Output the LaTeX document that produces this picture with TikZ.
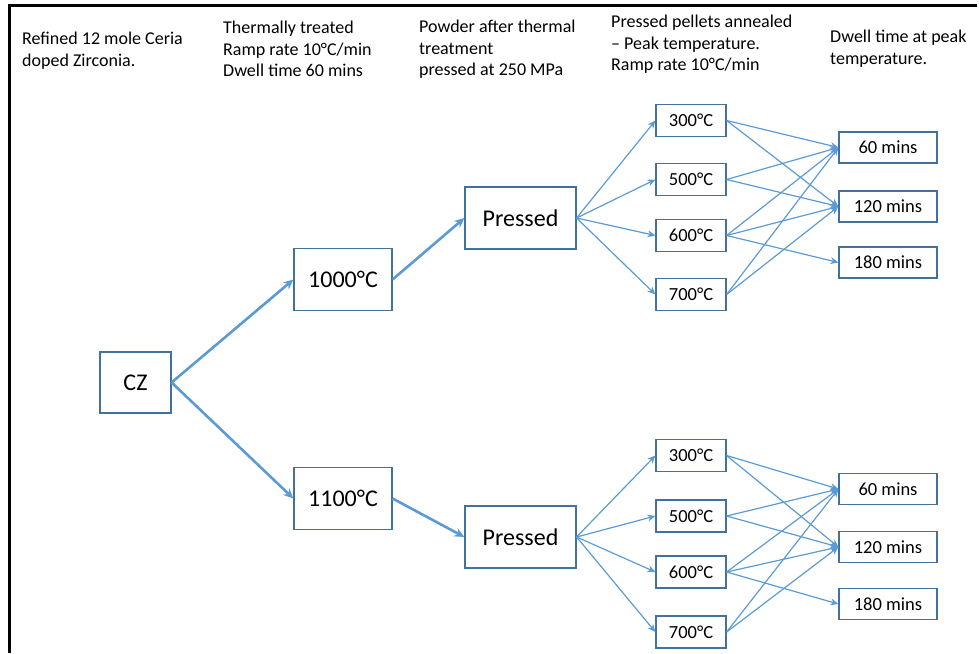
\documentclass[tikz,border=0pt]{standalone}
\usepackage{fontspec}
\setmainfont{Carlito}
\usetikzlibrary{arrows.meta}
\definecolor{boxline}{HTML}{41719C}
\definecolor{arrowblue}{HTML}{5B9BD5}

\begin{document}
\begin{tikzpicture}[x=1pt, y=-1pt,
    box/.style={draw=boxline, line width=1.2pt, inner sep=0pt, font=\fontsize{24}{28}\selectfont},
    tempbox/.style={box, minimum width=70pt, minimum height=32pt, font=\fontsize{18.5}{22}\selectfont},
    minsbox/.style={box, minimum width=98pt, minimum height=31pt, font=\fontsize{18.5}{22}\selectfont},
    heading/.style={anchor=north west, align=left, inner sep=0pt, font=\fontsize{18}{21.5}\selectfont},
    bigarrow/.style={draw=arrowblue, line width=2.6pt, -{Stealth[length=10pt, width=9pt]}},
    thinarrow/.style={draw=arrowblue, line width=1.2pt, -{Stealth[length=8pt, width=7pt]}}]
    \useasboundingbox (0,0) rectangle (979,653);
    \draw[line width=3pt] (9.5,653) -- (9.5,5.5) -- (977,5.5);

    % column headings
    \node[heading] (h1) at (22,32) {Refined 12 mole Ceria\\doped Zirconia.};
    \node[heading] (h2) at (223,21) {Thermally treated\\Ramp rate 10°C/min\\Dwell time 60 mins};
    \node[heading] (h3) at (419,20) {Powder after thermal\\treatment\\pressed at 250 MPa};
    \node[heading] (h4) at (611,15) {Pressed pellets annealed\\– Peak temperature.\\Ramp rate 10°C/min};
    \node[heading] (h5) at (830,30) {Dwell time at peak\\temperature.};

    % main branches
    \node[box, minimum width=71pt, minimum height=61pt] (cz) at (135.5,382.5) {CZ};
    \node[box, minimum width=98pt, minimum height=62pt] (t1000) at (343,279.5) {1000°C};
    \node[box, minimum width=98pt, minimum height=62pt] (t1100) at (343,498.5) {1100°C};
    \node[box, minimum width=111pt, minimum height=62pt] (pa) at (520.5,218) {Pressed};
    \node[box, minimum width=111pt, minimum height=62pt] (pb) at (520.5,537) {Pressed};

    \draw[bigarrow] (cz.east) -- (t1000.west);
    \draw[bigarrow] (cz.east) -- (t1100.west);
    \draw[bigarrow] (t1000.east) -- (pa.west);
    \draw[bigarrow] (t1100.east) -- (pb.west);

    % upper set: annealing and dwell
    \node[tempbox] (a300) at (691,120.5) {300°C};
    \node[tempbox] (a500) at (691,179.5) {500°C};
    \node[tempbox] (a600) at (691,235.5) {600°C};
    \node[tempbox] (a700) at (691,294.5) {700°C};
    \node[minsbox] (a60) at (888,147.5) {60 mins};
    \node[minsbox] (a120) at (888,206.5) {120 mins};
    \node[minsbox] (a180) at (888,262.5) {180 mins};

    \draw[thinarrow] (pa.east) -- (a300.west);
    \draw[thinarrow] (pa.east) -- (a500.west);
    \draw[thinarrow] (pa.east) -- (a600.west);
    \draw[thinarrow] (pa.east) -- (a700.west);
    \draw[thinarrow] (a300.east) -- (a60.west);
    \draw[thinarrow] (a300.east) -- (a120.west);
    \draw[thinarrow] (a500.east) -- (a60.west);
    \draw[thinarrow] (a500.east) -- (a120.west);
    \draw[thinarrow] (a600.east) -- (a60.west);
    \draw[thinarrow] (a600.east) -- (a120.west);
    \draw[thinarrow] (a600.east) -- (a180.west);
    \draw[thinarrow] (a700.east) -- (a60.west);
    \draw[thinarrow] (a700.east) -- (a120.west);

    % lower set: annealing and dwell
    \node[tempbox] (b300) at (691,455.5) {300°C};
    \node[tempbox] (b500) at (691,516) {500°C};
    \node[tempbox] (b600) at (691,572) {600°C};
    \node[tempbox] (b700) at (691,632) {700°C};
    \node[minsbox] (b60) at (888,489) {60 mins};
    \node[minsbox] (b120) at (888,547) {120 mins};
    \node[minsbox] (b180) at (888,604) {180 mins};

    \draw[thinarrow] (pb.east) -- (b300.west);
    \draw[thinarrow] (pb.east) -- (b500.west);
    \draw[thinarrow] (pb.east) -- (b600.west);
    \draw[thinarrow] (pb.east) -- (b700.west);
    \draw[thinarrow] (b300.east) -- (b60.west);
    \draw[thinarrow] (b300.east) -- (b120.west);
    \draw[thinarrow] (b500.east) -- (b60.west);
    \draw[thinarrow] (b500.east) -- (b120.west);
    \draw[thinarrow] (b600.east) -- (b60.west);
    \draw[thinarrow] (b600.east) -- (b120.west);
    \draw[thinarrow] (b600.east) -- (b180.west);
    \draw[thinarrow] (b700.east) -- (b60.west);
    \draw[thinarrow] (b700.east) -- (b120.west);
\end{tikzpicture}
\end{document}
